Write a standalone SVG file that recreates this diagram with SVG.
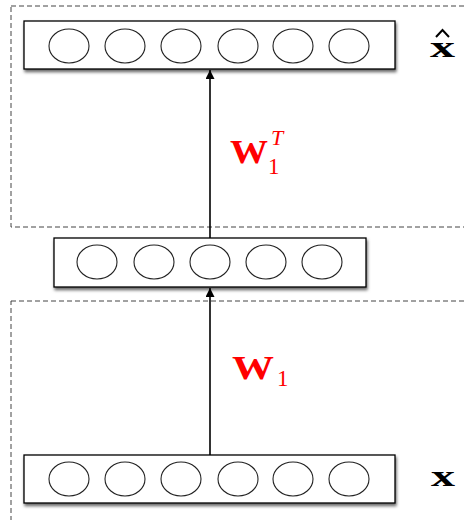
<svg xmlns="http://www.w3.org/2000/svg" width="464" height="520" viewBox="0 0 464 520">
  <style>
    .frame { fill: none; stroke: #444; stroke-width: 1; stroke-dasharray: 5 3; }
    .layer { fill: #fff; stroke: #000; stroke-width: 1.3; filter: url(#shadow); }
    .unit { fill: #fff; stroke: #222; stroke-width: 1.1; }
    .edge { stroke: #000; stroke-width: 1.6; fill: none; marker-end: url(#head); }
    .w { font-family: "Liberation Serif", serif; font-weight: bold; fill: #f00; }
    .idx { font-family: "Liberation Serif", serif; font-weight: normal; fill: #f00; }
    .sup { font-family: "Liberation Serif", serif; font-weight: normal; font-style: italic; fill: #f00; }
    .sym { font-family: "Liberation Serif", serif; font-weight: bold; fill: #000; }
  </style>
  <defs>
    <filter id="shadow" x="-5%" y="-20%" width="112%" height="160%">
      <feDropShadow dx="1" dy="2.5" stdDeviation="1.5" flood-color="#000" flood-opacity="0.6"/>
    </filter>
    <marker id="head" viewBox="0 0 10 10" refX="10" refY="5" markerWidth="9" markerHeight="9" markerUnits="userSpaceOnUse" orient="auto">
      <path d="M0,0 L10,5 L0,10 Z" fill="#000"/>
    </marker>
  </defs>

  <!-- dashed groupings -->
  <g id="frames">
    <rect class="frame" x="11" y="6" width="470" height="221"/>
    <rect class="frame" x="11" y="301" width="470" height="240"/>
  </g>

  <!-- connectors -->
  <g id="connectors">
    <line class="edge" x1="210" y1="455" x2="210" y2="288"/>
    <line class="edge" x1="210" y1="238" x2="210" y2="70"/>
  </g>

  <!-- output layer -->
  <g id="output-layer">
    <rect class="layer" x="24" y="21" width="371" height="48"/>
    <ellipse class="unit" cx="69" cy="46" rx="20" ry="17"/>
    <ellipse class="unit" cx="125" cy="46" rx="20" ry="17"/>
    <ellipse class="unit" cx="181" cy="46" rx="20" ry="17"/>
    <ellipse class="unit" cx="238" cy="46" rx="20" ry="17"/>
    <ellipse class="unit" cx="293" cy="46" rx="20" ry="17"/>
    <ellipse class="unit" cx="349" cy="46" rx="20" ry="17"/>
  </g>

  <!-- hidden layer -->
  <g id="hidden-layer">
    <rect class="layer" x="54" y="238" width="312" height="49"/>
    <ellipse class="unit" cx="97" cy="262" rx="20" ry="17"/>
    <ellipse class="unit" cx="154" cy="262" rx="20" ry="17"/>
    <ellipse class="unit" cx="210" cy="262" rx="20" ry="17"/>
    <ellipse class="unit" cx="266" cy="262" rx="20" ry="17"/>
    <ellipse class="unit" cx="322" cy="262" rx="20" ry="17"/>
  </g>

  <!-- input layer -->
  <g id="input-layer">
    <rect class="layer" x="24" y="455" width="371" height="48"/>
    <ellipse class="unit" cx="69" cy="479" rx="20" ry="17"/>
    <ellipse class="unit" cx="125" cy="479" rx="20" ry="17"/>
    <ellipse class="unit" cx="181" cy="479" rx="20" ry="17"/>
    <ellipse class="unit" cx="238" cy="479" rx="20" ry="17"/>
    <ellipse class="unit" cx="293" cy="479" rx="20" ry="17"/>
    <ellipse class="unit" cx="349" cy="479" rx="20" ry="17"/>
  </g>

  <!-- weight labels -->
  <g id="label-w1t">
    <text class="w" x="230" y="163" font-size="33" textLength="38" lengthAdjust="spacingAndGlyphs">W</text>
    <text class="idx" x="268" y="174" font-size="23">1</text>
    <text class="sup" x="271" y="145" font-size="22">T</text>
  </g>
  <g id="label-w1">
    <text class="w" x="232" y="379" font-size="33" textLength="42" lengthAdjust="spacingAndGlyphs">W</text>
    <text class="idx" x="277" y="386" font-size="23">1</text>
  </g>

  <!-- layer symbols -->
  <g id="label-xhat">
    <text class="sym" x="430" y="57" font-size="30" textLength="25" lengthAdjust="spacingAndGlyphs">x</text>
    <path d="M436,37 L442.5,30 L449,37" fill="none" stroke="#000" stroke-width="2"/>
  </g>
  <g id="label-x">
    <text class="sym" x="431" y="486" font-size="29" textLength="24" lengthAdjust="spacingAndGlyphs">x</text>
  </g>
</svg>
